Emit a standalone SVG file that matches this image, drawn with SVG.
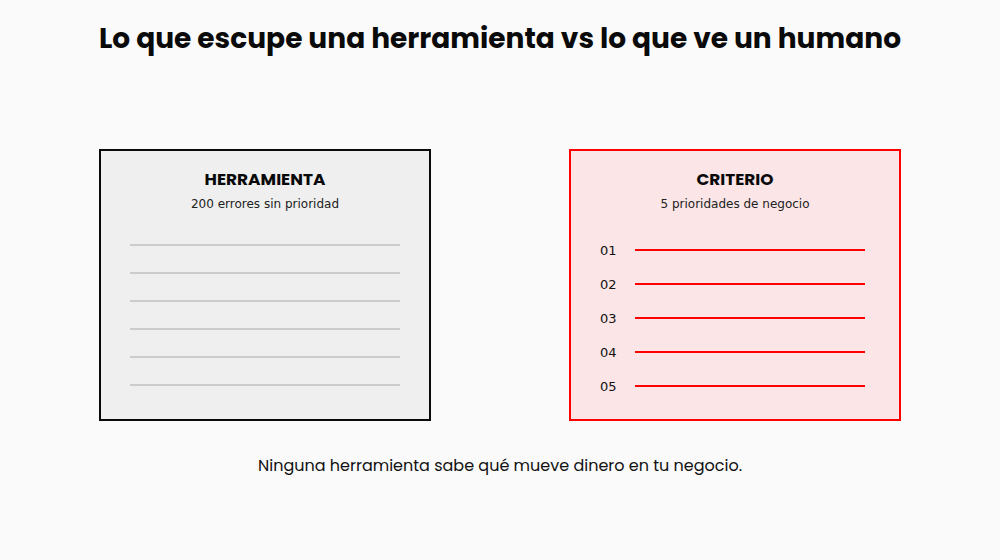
<svg xmlns="http://www.w3.org/2000/svg" width="1000" height="560" viewBox="0 0 1000 560">
<style>
.title{font-family:Poppins,"Open Sans","Noto Sans",sans-serif;font-weight:700;font-size:28px;fill:#0a0a0a}
.head{font-family:Poppins,"Open Sans","Noto Sans",sans-serif;font-weight:700;font-size:16px;fill:#0a0a0a}
.sub{font-family:"DejaVu Sans",sans-serif;font-size:12px;fill:#222}
.num{font-family:"DejaVu Sans",sans-serif;font-size:13px;fill:#111}
.foot{font-family:Poppins,"Open Sans","Noto Sans",sans-serif;font-size:16px;fill:#111}
.gl{stroke:#cccccc;stroke-width:2}
.rl{stroke:#ff0000;stroke-width:2}
</style>
<rect width="1000" height="560" fill="#fafafa"/>
<text class="title" x="500" y="48" text-anchor="middle" textLength="802" lengthAdjust="spacingAndGlyphs">Lo que escupe una herramienta vs lo que ve un humano</text>
<g id="herramienta">
<rect x="100" y="150" width="330" height="270" fill="#efefef" stroke="#0a0a0a" stroke-width="2"/>
<text class="head" x="265" y="185" text-anchor="middle" textLength="121" lengthAdjust="spacingAndGlyphs">HERRAMIENTA</text>
<text class="sub" x="265" y="208" text-anchor="middle">200 errores sin prioridad</text>
<line class="gl" x1="130" y1="245" x2="400" y2="245"/>
<line class="gl" x1="130" y1="273" x2="400" y2="273"/>
<line class="gl" x1="130" y1="301" x2="400" y2="301"/>
<line class="gl" x1="130" y1="329" x2="400" y2="329"/>
<line class="gl" x1="130" y1="357" x2="400" y2="357"/>
<line class="gl" x1="130" y1="385" x2="400" y2="385"/>
</g>
<g id="criterio">
<rect x="570" y="150" width="330" height="270" fill="#fbe5e6" stroke="#ff0000" stroke-width="2"/>
<text class="head" x="735" y="185" text-anchor="middle" textLength="77" lengthAdjust="spacingAndGlyphs">CRITERIO</text>
<text class="sub" x="735" y="208" text-anchor="middle">5 prioridades de negocio</text>
<text class="num" x="600" y="255">01</text>
<text class="num" x="600" y="289">02</text>
<text class="num" x="600" y="323">03</text>
<text class="num" x="600" y="357">04</text>
<text class="num" x="600" y="391">05</text>
<line class="rl" x1="635" y1="250" x2="865" y2="250"/>
<line class="rl" x1="635" y1="284" x2="865" y2="284"/>
<line class="rl" x1="635" y1="318" x2="865" y2="318"/>
<line class="rl" x1="635" y1="352" x2="865" y2="352"/>
<line class="rl" x1="635" y1="386" x2="865" y2="386"/>
</g>
<g id="connectors"/>
<text class="foot" x="500" y="471" text-anchor="middle" textLength="484" lengthAdjust="spacingAndGlyphs">Ninguna herramienta sabe qué mueve dinero en tu negocio.</text>
</svg>
